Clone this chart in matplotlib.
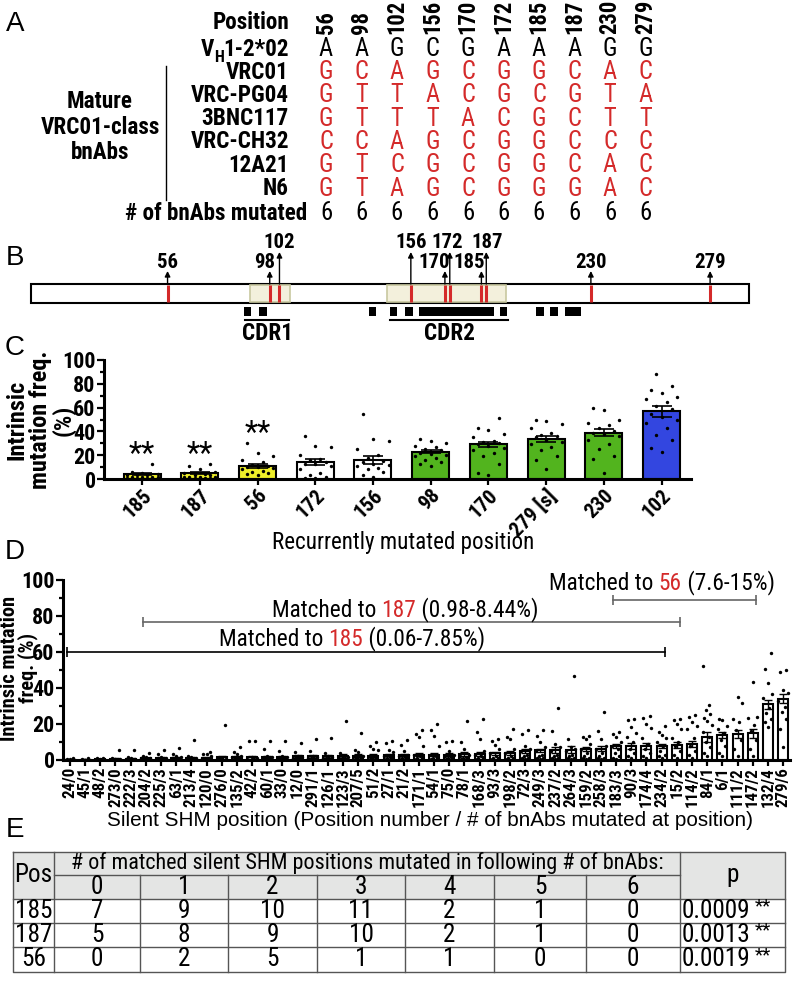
import matplotlib
matplotlib.use('Agg')
import matplotlib.pyplot as plt
from matplotlib.patches import Rectangle
from matplotlib.font_manager import FontProperties, fontManager, findfont
from matplotlib.backends.backend_agg import RendererAgg
import numpy as np

RED = '#d42a2a'

# ---------------- data ----------------
# A: nucleotide table
positions = ['56', '98', '102', '156', '170', '172', '185', '187', '230', '279']
germline = ['A', 'A', 'G', 'C', 'G', 'A', 'A', 'A', 'G', 'G']
bnab_names = ['VRC01', 'VRC-PG04', '3BNC117', 'VRC-CH32', '12A21', 'N6']
bnab_seqs = ['GCAGCGGCAC', 'GTTACGCGTA', 'GTTTACGCTT',
             'CCAGCGGCCC', 'GTCGCGGCAC', 'GTAGCGGGAC']
n_mutated = [6, 6, 6, 6, 6, 6, 6, 6, 6, 6]

# B: V gene map (nucleotide positions)
vgene_len = 295
shm_pos = [56, 98, 102, 156, 170, 172, 185, 187, 230, 279]
cdr_boxes = [(90, 106.5), (146, 195)]
cdr_spans = [(88, 106, 'CDR1'), (147.5, 196, 'CDR2')]
hotspots = [(87.4, 90.5), (93.6, 96.7), (138.8, 141.7), (147.4, 150.5),
            (153.6, 156.7), (159.3, 190), (192.6, 195.7), (207.6, 210.7),
            (213.2, 216.3), (219.4, 226)]

# C: recurrently mutated positions
c_labels = ['185', '187', '56', '172', '156', '98', '170', '279 [s]', '230', '102']
c_means = [4, 5, 11, 14, 16, 23, 29, 34, 39, 57]
c_sem = [1, 1, 1.5, 2.5, 3, 1.5, 2.5, 2.5, 3, 4.5]
c_colors = ['#eeee2a', '#eeee2a', '#eeee2a', 'white', 'white',
            '#52b41e', '#52b41e', '#52b41e', '#52b41e', '#3346e0']
c_points = [
    [13, 6, 5, 4, 3, 3, 2, 2, 1.5, 1, 1, 0.5, 0.5, 2, 3, 1, 0.3],
    [13, 11, 8, 6, 5, 4, 3, 3, 2, 2, 1.5, 1, 1, 0.5, 0.5, 0.3, 2],
    [30, 22, 19, 16, 14, 12, 11, 10, 10, 9, 8, 7, 6, 5, 4, 3],
    [36, 28, 27, 20, 16, 14, 13, 13, 11, 8, 5, 3, 2, 1, 1, 17],
    [55, 34, 32, 25, 20, 18, 15, 13, 11, 8, 6, 3, 2, 9, 12, 14],
    [34, 32, 30, 28, 27, 25, 24, 22, 21, 20, 19, 18, 16, 14, 13, 11],
    [51, 43, 41, 38, 35, 32, 31, 29, 28, 26, 24, 22, 19, 13, 5, 3, 30],
    [50, 49, 46, 43, 39, 37, 36, 35, 33, 31, 29, 27, 24, 19, 16, 8],
    [60, 58, 50, 47, 43, 40, 39, 38, 36, 33, 29, 25, 19, 17, 5, 45],
    [88, 78, 75, 72, 69, 67, 65, 61, 59, 55, 52, 50, 47, 43, 37, 33, 26, 23],
]
c_starred = [True, True, True, False, False, False, False, False, False, False]

# D: silent SHM positions
d_labels = ['24/0', '45/1', '48/2', '273/0', '222/3', '204/2', '225/3', '63/1',
            '213/4', '120/0', '276/0', '135/2', '42/2', '60/1', '33/0', '12/0',
            '291/1', '126/1', '123/3', '207/5', '51/2', '27/1', '21/2', '171/1',
            '54/1', '75/0', '78/1', '168/3', '93/3', '198/2', '72/3', '249/3',
            '237/2', '264/3', '159/2', '258/3', '183/3', '90/3', '174/4', '234/2',
            '15/2', '114/2', '84/1', '6/1', '111/2', '147/2', '132/4', '279/6']
d_means = [0.06, 0.2, 0.3, 0.6, 0.8, 0.98, 1.0, 1.2, 1.3, 1.2, 1.5, 1.5, 1.5, 1.8,
           1.8, 2.0, 2.0, 2.0, 2.2, 2.5, 2.5, 2.8, 2.8, 3.0, 3.0, 3.0, 3.2, 3.5,
           3.8, 4.0, 5.0, 5.3, 5.5, 5.8, 6.0, 6.3, 7.6, 7.7, 7.8, 7.85, 8.44, 9.0,
           13.0, 14.0, 14.5, 15.0, 31.0, 34.0]
d_sem = [0.05, 0.1, 0.1, 0.3, 0.3, 0.3, 0.4, 0.4, 0.6, 0.4, 1.0, 0.5, 0.7, 0.6,
         0.6, 0.6, 0.7, 0.7, 1.0, 0.8, 0.6, 0.7, 0.7, 1.0, 1.0, 0.7, 1.0, 1.2,
         0.9, 1.0, 1.0, 1.0, 1.5, 2.0, 1.0, 1.5, 1.2, 1.5, 1.6, 1.3, 1.5, 1.6,
         2.8, 1.8, 2.2, 2.5, 2.6, 2.5]
d_points = [
    [0, 0, 0, 0, 0, 0, 0, 0.5, 1, 0.5],
    [0, 0, 0, 0, 0, 0, 0, 0.5, 1, 0],
    [0, 0, 0, 0, 0, 0, 0.5, 1, 1, 0],
    [5.6, 0, 0, 0, 0, 0, 0.5, 1, 0.5, 0],
    [5.6, 1.5, 1, 0.5, 0, 0, 0, 0.5, 0, 0],
    [3.7, 2.4, 1.5, 1, 0.5, 0.5, 0, 0, 1, 0],
    [5.6, 3.4, 1.5, 1, 0.5, 0, 0, 0, 0.5, 0],
    [6.5, 3.4, 2, 1.5, 1, 0.5, 0, 0, 0.5, 0],
    [11.2, 2.4, 1.5, 1, 0.5, 0, 0, 0, 0.5, 0],
    [4.3, 3.4, 3.4, 2, 1, 0.5, 0, 0, 0.5, 0],
    [19.3, 1, 0.5, 0, 0, 0, 0.5, 0, 1, 0],
    [7.5, 4.7, 3.4, 2.5, 1.5, 1, 0.5, 0, 0, 0],
    [10.8, 10.3, 1.5, 1, 0.5, 0, 0, 0, 0.5, 0],
    [10.8, 6.2, 2.4, 1.5, 1, 0.5, 0, 0, 0.5, 1],
    [10.8, 5.2, 2.5, 1.5, 1, 0.5, 0, 0, 0.5, 1],
    [9.3, 4.3, 2.5, 1.5, 1, 0.5, 0, 0, 1, 1],
    [11.8, 5.2, 2.5, 1.5, 1, 0.5, 0, 0, 1, 1],
    [12.3, 3.7, 2.5, 1.5, 1, 0.5, 0, 0, 1, 1],
    [21.5, 3.7, 2.5, 1.5, 1, 0.5, 0, 0, 1, 1],
    [15.1, 5.6, 4.3, 2.5, 1.5, 1, 0.5, 0, 1, 2],
    [9.9, 8, 6.2, 5.6, 2.5, 1.5, 1, 0, 0.5, 1],
    [10.3, 9.3, 5.6, 4.3, 2.5, 1.5, 1, 0, 0.5, 1],
    [11.2, 8.6, 5.2, 3, 2, 1.5, 1, 0, 0.5, 1],
    [16.8, 14.6, 12.7, 8, 3, 2, 1, 0, 0.5, 1],
    [19.8, 16.8, 13.6, 8, 3, 2, 1, 0, 0.5, 1],
    [10.8, 9.9, 5.2, 3, 2, 1.5, 1, 0, 0.5, 1],
    [21.7, 9.9, 6.2, 3, 2, 1.5, 1, 0, 0.5, 1],
    [22.8, 15.5, 11.8, 5.2, 3, 2, 1, 0, 0.5, 1],
    [11.8, 10.8, 8.6, 6, 4, 2, 1, 0, 0.5, 1],
    [17.4, 12.7, 11.8, 6, 4, 2, 1, 0, 0.5, 1],
    [16.8, 14.6, 8, 6, 5, 3, 2, 1, 0.5, 1],
    [16.4, 13.6, 9.9, 7, 5, 3, 2, 1, 0.5, 1],
    [29, 16, 9, 7, 5, 3, 2, 1, 0.5, 1],
    [46.7, 11.8, 7, 6, 5, 3, 2, 1, 0.5, 1],
    [13.6, 12.7, 11.8, 9, 6, 4, 2, 1, 0.5, 1],
    [26.7, 16, 11.8, 8, 6, 4, 2, 1, 0.5, 1],
    [15.5, 14.6, 12.7, 10, 8, 6, 4, 2, 1, 0.5],
    [23, 22, 18.3, 15, 12.7, 10, 6, 4, 2, 1],
    [24.3, 23.5, 20, 18, 12, 9, 6, 4, 2, 1],
    [19, 15.5, 14, 12, 10, 8, 5, 3, 2, 1],
    [22.8, 22.4, 19.8, 17.4, 12.3, 10, 8, 5, 3, 1],
    [24.9, 24, 21, 18.7, 17, 12, 8, 5, 3, 1],
    [52, 30.5, 27.7, 25.8, 23.5, 21.7, 19.3, 15.5, 13, 10, 7, 4, 2.4],
    [23, 22, 18.7, 17, 15, 11, 8, 4, 2.4],
    [35, 31.4, 23, 21, 16.4, 11, 6, 2],
    [43.5, 24, 23.5, 19.3, 16, 11, 6, 2],
    [59.4, 50.5, 42.6, 36.6, 34.2, 29, 26, 23, 21, 18.3],
    [50, 49, 39, 37, 33, 29.5, 26.7, 23, 17.4, 7],
]
# matched ranges: (position, first bar, last bar, bracket level, range text)
matched = [('185', 0, 39, 60, '(0.06-7.85%)'),
           ('187', 5, 40, 76.5, '(0.98-8.44%)'),
           ('56', 36, 45, 89, '(7.6-15%)')]

# E: table
e_pos = ['185', '187', '56']
e_counts = [[7, 9, 10, 11, 2, 1, 0],
            [5, 8, 9, 10, 2, 1, 0],
            [0, 2, 5, 1, 1, 0, 0]]
e_p = ['0.0009', '0.0013', '0.0019']


# ---------------- fonts ----------------
def _weight(e):
    w = str(e.weight).lower()
    if w in ('bold', '700'):
        return 'bold'
    if w in ('normal', 'regular', 'book', '400'):
        return 'normal'
    return None


def _narrow(e):
    n = e.name.lower()
    s = str(e.stretch).lower()
    return ('narrow' in n or 'condensed' in n or s in ('condensed', 'semi-condensed')
            or (s.isdigit() and 300 <= int(s) < 500))


def pick_narrow():
    prefs = ['liberation sans narrow', 'arial narrow', 'roboto condensed', 'noto sans',
             'noto sans condensed', 'open sans', 'open sans condensed', 'lato', 'inter',
             'dejavu sans', 'dejavu sans condensed']
    found = {}
    for e in fontManager.ttflist:
        if e.style != 'normal' or not _narrow(e) or _weight(e) is None:
            continue
        n = e.name.lower()
        if n not in prefs or 'mono' in e.fname.lower() or 'serif' in n:
            continue
        found.setdefault((prefs.index(n), _weight(e)), e.fname)
    for rank in range(len(prefs)):
        if (rank, 'normal') in found and (rank, 'bold') in found:
            return found[(rank, 'normal')], found[(rank, 'bold')]
    return (findfont(FontProperties(family='Liberation Sans')),
            findfont(FontProperties(family='Liberation Sans', weight='bold')))


NARROW_R, NARROW_B = pick_narrow()
REG_R = findfont(FontProperties(family='Liberation Sans'))
_rend = RendererAgg(793, 982, 100)


def fp(fname, size):
    return FontProperties(fname=fname, size=size)


def fit(text, fname, target_px):
    w, h, d = _rend.get_text_width_height_descent(text, fp(fname, 10), ismath=False)
    return 10 * target_px / w


S_A = fit('Position', NARROW_B, 77)
S_TK = S_A * 0.95
S_DX = fit('273/0', NARROW_B, 40)
S_DYL = fit('Intrinsic mutation', NARROW_B, 145)
S_CXL = fit('Recurrently mutated position', NARROW_R, 260)
S_MT = fit('Matched to 185 (0.06-7.85%)', NARROW_R, 265)
S_SIL = fit('Silent SHM position (Position number / # of bnAbs mutated at position)', REG_R, 644)
S_E = fit('0.0009', NARROW_R, 62) * 1.1
S_EH = fit('# of matched silent SHM positions mutated in following # of bnAbs:', NARROW_R, 590)

# ---------------- layout helpers ----------------
W, H = 793, 982
fig = plt.figure(figsize=(W / 100, H / 100), dpi=100)


def px_axes(left, top, right, bottom):
    return fig.add_axes([left / W, 1 - bottom / H, (right - left) / W, (bottom - top) / H])


ov = px_axes(0, 0, W, H)
ov.set_xlim(0, W)
ov.set_ylim(H, 0)
ov.axis('off')

for letter, (lx, ly) in zip('ABCDE', [(15, 24), (15, 258), (15, 348), (15, 552), (15, 830)]):
    ov.text(lx, ly, letter, fontproperties=fp(REG_R, 20), ha='center', va='center')

# ---------------- A ----------------
col_x = [326 + 35.5 * i for i in range(len(positions))]
row_y = [72 + 23.3 * k for k in range(len(bnab_names))]
FA_B = fp(NARROW_B, S_A)
FA_R = fp(NARROW_R, S_A * 1.06)
ov.text(289, 22, 'Position', ha='right', va='center', fontproperties=FA_B)
t_vh = ov.text(289, 49, '1-2*02', ha='right', va='center', fontproperties=FA_B)
t_h = ov.annotate('H', xy=(0, 0), xycoords=t_vh, xytext=(0, -3), textcoords='offset points',
                  ha='right', va='bottom', fontproperties=fp(NARROW_B, S_A * 0.7))
ov.annotate('V', xy=(0, 0), xycoords=(t_h, t_vh), ha='right', va='bottom', fontproperties=FA_B)
for x, p, g in zip(col_x, positions, germline):
    ov.text(x, 34, p, fontproperties=fp(NARROW_B, S_A * 0.98), rotation=90,
            ha='center', va='bottom')
    ov.text(x, 49, g, fontproperties=FA_R, ha='center', va='center')
for y, name, seq in zip(row_y, bnab_names, bnab_seqs):
    ov.text(289, y, name, ha='right', va='center', fontproperties=FA_B)
    for x, nt in zip(col_x, seq):
        ov.text(x, y, nt, fontproperties=FA_R, color=RED, ha='center', va='center')
ov.text(100, 127, 'Mature\nVRC01-class\nbnAbs', ha='center', va='center', linespacing=1.15,
        fontproperties=FA_B)
ov.plot([166, 166], [66, 200], color='black', lw=1)
ov.text(307, 213, '# of bnAbs mutated', ha='right', va='center', fontproperties=FA_B)
for x, n in zip(col_x, n_mutated):
    ov.text(x, 213, str(n), fontproperties=FA_R, ha='center', va='center')

# ---------------- B ----------------
k_nt = 2.433
x0_nt = 31.3
ax_b = px_axes(0, 230, W, 340)
ax_b.set_xlim(-x0_nt / k_nt, (W - x0_nt) / k_nt)
ax_b.set_ylim(340, 230)
ax_b.axis('off')
ax_b.add_patch(Rectangle((0, 284), vgene_len, 19, fc='white', ec='black', lw=1.5, zorder=1))
for a, b in cdr_boxes:
    ax_b.add_patch(Rectangle((a, 285), b - a, 17, fc='#f3f0dc', ec='#c8c8a0', lw=1.2, zorder=2))
ax_b.vlines(shm_pos, 284.8, 302.2, color=RED, lw=2.2, zorder=3)
for a, b in hotspots:
    ax_b.add_patch(Rectangle((a, 307), b - a, 9, fc='black', ec='none'))
FB = fp(NARROW_B, S_A * 0.9)
for a, b, name in cdr_spans:
    ax_b.plot([a, b], [320, 320], color='black', lw=1.5)
    ax_b.text((a + b) / 2, 334, name, fontproperties=FA_B, ha='center', va='center')
label_high = [False, False, True, True, False, True, False, True, False, False]
label_shift = [0, -2, 0, 0, -4.5, -1, -5, 0.5, 0, 0]
for p, hi, sh in zip(shm_pos, label_high, label_shift):
    tip = 252 if hi else 271
    ax_b.annotate('', xy=(p, tip), xytext=(p, 284),
                  arrowprops=dict(arrowstyle='-|>', color='black', lw=1, mutation_scale=8,
                                  shrinkA=0, shrinkB=0))
    ax_b.text(p + sh, 243 if hi else 262, str(p), fontproperties=FB,
              ha='center', va='center')


def spread(values, width):
    # deterministic horizontal spread of dots inside a bar
    order = np.argsort(values)
    pattern = [0, -0.5, 0.5, -0.25, 0.25, -0.75, 0.75]
    offs = np.zeros(len(values))
    for rank, idx in enumerate(order):
        offs[idx] = pattern[rank % len(pattern)] * width
    return offs


def style_axis(ax, tick_fp):
    for s in ['top', 'right']:
        ax.spines[s].set_visible(False)
    for s in ['left', 'bottom']:
        ax.spines[s].set_linewidth(2.2)
    ax.set_yticks(range(0, 101, 20))
    ax.set_yticks(range(10, 100, 20), minor=True)
    ax.tick_params(axis='y', which='major', length=5, width=1.6, pad=1)
    ax.tick_params(axis='y', which='minor', length=3, width=1.6)
    ax.tick_params(axis='x', length=4, width=1.6, pad=1)
    for t in ax.get_yticklabels():
        t.set_fontproperties(tick_fp)


# ---------------- C ----------------
ax_c = px_axes(104, 360, 691, 479)
xc = np.arange(len(c_labels))
ax_c.bar(xc, c_means, width=0.64, color=c_colors, edgecolor='black', lw=1.5, zorder=2)
ax_c.errorbar(xc, c_means, yerr=c_sem, fmt='none', ecolor='black', elinewidth=1.2,
              capsize=7, capthick=1.2, zorder=3)
for i, pts in enumerate(c_points):
    ax_c.scatter(i + spread(pts, 0.36), pts, s=6, color='black', zorder=4, linewidths=0)
    if c_starred[i]:
        ax_c.text(i, max(pts) + 8, '**', fontproperties=fp(NARROW_R, 22), ha='center', va='center')
ax_c.set_xlim(-0.66, 9.51)
ax_c.set_ylim(0, 100)
ax_c.set_xticks(xc)
ax_c.set_xticklabels(c_labels, rotation=45, ha='right', rotation_mode='anchor')
style_axis(ax_c, fp(NARROW_B, S_TK))
for t in ax_c.get_xticklabels():
    t.set_fontproperties(fp(NARROW_B, S_A * 0.9))
FCY = fp(NARROW_B, S_A * 1.05)
for lx, line in zip([17, 41, 63], ['Intrinsic', 'mutation freq.', '(%)']):
    ov.text(lx, 420, line, rotation=90, ha='center', va='center', fontproperties=FCY)
ov.text(403, 543, 'Recurrently mutated position', fontproperties=fp(NARROW_R, S_CXL),
        ha='center', va='center')

# ---------------- D ----------------
ax_d = px_axes(63, 580, 790, 760)
xd = np.arange(len(d_labels))
ax_d.bar(xd, d_means, width=0.66, color='white', edgecolor='black', lw=1.5, zorder=2)
ax_d.errorbar(xd, d_means, yerr=d_sem, fmt='none', ecolor='black', elinewidth=1,
              capsize=3, capthick=1, zorder=3)
for i, pts in enumerate(d_points):
    ax_d.scatter(i + spread(pts, 0.4), pts, s=6, color='black', zorder=4, linewidths=0)
ax_d.set_xlim(-0.46, 47.46)
ax_d.set_ylim(0, 100)
ax_d.set_xticks(xd)
ax_d.set_xticklabels(d_labels, rotation=90)
style_axis(ax_d, fp(NARROW_B, S_TK))
for t in ax_d.get_xticklabels():
    t.set_fontproperties(fp(NARROW_B, S_DX))
for name, a, b, level, rng in matched:
    col = 'black' if name == '185' else '#666666'
    ax_d.plot([a - 0.2, b + 0.2], [level, level], color=col, lw=1.2, clip_on=False)
    ax_d.plot([a - 0.2, b + 0.2], [level, level], ls='none', marker='|', ms=7, mew=1.2,
              color=col, clip_on=False)
text_pos = {'185': (18.6, 66.7), '187': (22.1, 83.3), '56': (39, 98.3)}
FM = fp(NARROW_R, S_MT)
for name, a, b, level, rng in matched:
    tx, ty = text_pos[name]
    full = 'Matched to %s %s' % (name, rng)
    w_full = _rend.get_text_width_height_descent(full, FM, ismath=False)[0]
    t1 = ax_d.annotate('Matched to ', xy=(tx, ty), xytext=(-w_full / 2 * 0.72, 0),
                       textcoords='offset points', ha='left', va='center', fontproperties=FM)
    t2 = ax_d.annotate(name, xy=(1, 0), xycoords=t1, ha='left', va='bottom',
                       fontproperties=FM, color=RED)
    ax_d.annotate(' ' + rng, xy=(1, 0), xycoords=t2, ha='left', va='bottom', fontproperties=FM)
ov.text(19, 668, 'Intrinsic mutation\nfreq. (%)', rotation=90, ha='center', va='center',
        fontproperties=fp(NARROW_B, S_DYL), linespacing=0.95)
ov.text(430, 821, 'Silent SHM position (Position number / # of bnAbs mutated at position)',
        fontproperties=fp(REG_R, S_SIL), ha='center', va='center')

# ---------------- E ----------------
col_edges = [13, 54, 140, 228, 317, 405, 494, 586, 680, 785]
row_edges = [852, 875, 899, 923, 947, 972]
ov.add_patch(Rectangle((col_edges[0], row_edges[0]), col_edges[-1] - col_edges[0],
                       row_edges[2] - row_edges[0], fc='#e4e5e4', ec='none'))
LC = '#555555'
ov.plot([col_edges[0], col_edges[-1], col_edges[-1], col_edges[0], col_edges[0]],
        [row_edges[0], row_edges[0], row_edges[-1], row_edges[-1], row_edges[0]], color=LC, lw=1)
ov.plot([col_edges[1], col_edges[-2]], [row_edges[1]] * 2, color=LC, lw=1)
for y in row_edges[2:-1]:
    ov.plot([col_edges[0], col_edges[-1]], [y, y], color=LC, lw=1)
for j, x in enumerate(col_edges[1:-1], start=1):
    top = row_edges[0] if j in (1, len(col_edges) - 2) else row_edges[1]
    ov.plot([x, x], [top, row_edges[-1]], color=LC, lw=1)
FE = fp(NARROW_R, S_E)
ov.text((col_edges[0] + col_edges[1]) / 2, row_edges[1], 'Pos', fontproperties=FE, ha='center', va='center')
ov.text((col_edges[-2] + col_edges[-1]) / 2, row_edges[1], 'p', fontproperties=FE, ha='center', va='center')
ov.text((col_edges[1] + col_edges[-2]) / 2, (row_edges[0] + row_edges[1]) / 2,
        '# of matched silent SHM positions mutated in following # of bnAbs:',
        fontproperties=fp(NARROW_R, S_EH), ha='center', va='center')
for j in range(7):
    cx = (col_edges[j + 1] + col_edges[j + 2]) / 2
    ov.text(cx, (row_edges[1] + row_edges[2]) / 2, str(j), fontproperties=FE, ha='center', va='center')
for r, (pos, counts, pv) in enumerate(zip(e_pos, e_counts, e_p)):
    cy = (row_edges[r + 2] + row_edges[r + 3]) / 2
    ov.text((col_edges[0] + col_edges[1]) / 2, cy, pos, fontproperties=FE, ha='center', va='center')
    for j, c in enumerate(counts):
        cx = (col_edges[j + 1] + col_edges[j + 2]) / 2
        ov.text(cx, cy, str(c), fontproperties=FE, ha='center', va='center')
    tp = ov.text(col_edges[-2] + 2, cy, pv, fontproperties=FE, ha='left', va='center')
    ov.annotate('**', xy=(1, 1), xycoords=tp, xytext=(3, 1), textcoords='offset points',
                ha='left', va='top', fontproperties=fp(NARROW_R, S_E * 0.75))

fig.savefig('out.png', dpi=100)
